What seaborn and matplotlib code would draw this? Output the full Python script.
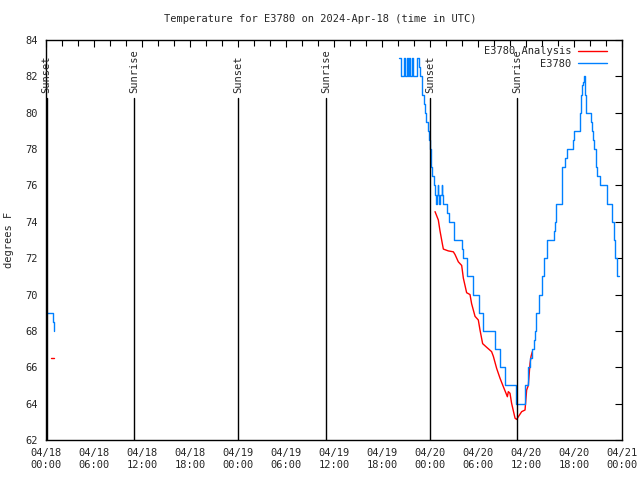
import matplotlib
matplotlib.use("Agg")
import matplotlib.pyplot as plt
import matplotlib.dates as mdates
from matplotlib.lines import Line2D
import numpy as np
import pandas as pd
import seaborn as sns

base = pd.Timestamp("2024-04-18 00:00")

# E3780 observations (hours since 04/18 00:00 UTC, deg F), drawn as steps
obs_seg1_hours = [0.12, 0.91, 1.04]
obs_seg1_temps = [69, 68.5, 68]
obs_seg2_hours = [44.13, 44.38, 44.75, 44.88, 45.13, 45.25, 45.42, 45.54, 45.71, 45.83,
                  46.33, 46.67, 46.8, 46.95, 47.05, 47.2, 47.35, 47.5, 47.7, 47.9,
                  48.05, 48.15, 48.3, 48.45, 48.6, 48.75, 48.85, 48.95, 49.05, 49.15,
                  49.3, 49.45, 49.55, 49.67, 50.08, 50.42, 51.04, 51.96, 52.17, 52.58,
                  53.33, 54.1, 54.58, 56.1, 56.75, 57.4, 58.8, 59.9, 60.25, 60.5,
                  60.8, 61.0, 61.1, 61.3, 61.67, 62.05, 62.3, 62.58, 63.5, 63.62,
                  63.75, 64.45, 64.5, 64.9, 65.1, 65.85, 65.95, 66.8, 66.9, 67.0,
                  67.1, 67.25, 67.4, 67.5, 68.1, 68.2, 68.4, 68.55, 68.7, 68.9,
                  69.2, 70.1, 70.7, 70.95, 71.15, 71.35, 71.6]
obs_seg2_temps = [83, 82, 83, 82, 83, 82, 83, 82, 83, 82,
                  83, 82.5, 82, 81.5, 81, 80.5, 80, 79.5, 79, 78.5,
                  78, 77, 76.5, 76, 75.5, 75, 75.5, 76, 75.5, 75,
                  75.5, 76, 75.5, 75, 74.5, 74, 73, 72.5, 72, 71,
                  70, 69, 68, 67, 66, 65, 64, 65, 66, 66.5,
                  67, 67.5, 68, 69, 70, 71, 72, 73, 73.5, 74,
                  75, 76, 77, 77.5, 78, 78.5, 79, 80, 81, 81.5,
                  81.7, 82, 81, 80, 79.5, 79, 78.5, 78, 77, 76.5,
                  76, 75, 74, 73, 72, 71, 71]

# E3780 analysis
ana_seg1_hours = [0.63, 0.96]
ana_seg1_temps = [66.5, 66.5]
ana_seg2_hours = [48.63, 49.04, 49.25, 49.54, 49.67, 50.29, 50.92, 51.13, 51.54, 51.96,
                  52.17, 52.58, 53.0, 53.2, 53.63, 54.04, 54.25, 54.58, 55.08, 55.7,
                  55.92, 56.33, 56.75, 57.17, 57.5, 57.67, 57.79, 58.0, 58.2, 58.63,
                  58.83, 59.04, 59.46, 59.88, 60.08, 60.29, 60.5, 60.63, 60.79]
ana_seg2_temps = [74.56, 74.1, 73.5, 72.8, 72.5, 72.4, 72.35, 72.2, 71.8, 71.6,
                  70.9, 70.1, 70.0, 69.5, 68.8, 68.6, 68.05, 67.3, 67.1, 66.86,
                  66.6, 65.94, 65.4, 64.93, 64.57, 64.38, 64.66, 64.57, 64.02, 63.2,
                  63.13, 63.28, 63.56, 63.65, 64.75, 65.0, 66.2, 66.6, 66.86]

sun_hours = [0.08, 11.03, 24.05, 35.0, 48.03, 58.9]
sun_labels = ["Sunset", "Sunrise", "Sunset", "Sunrise", "Sunset", "Sunrise"]

RED = "#ff0000"
BLUE = "#0080ff"


def frame(segments):
    parts = []
    for i, (h, t) in enumerate(segments):
        parts.append(pd.DataFrame({
            "time": base + pd.to_timedelta(h, unit="h"),
            "temp": t,
            "seg": i,
        }))
    return pd.concat(parts, ignore_index=True)


obs = frame([(obs_seg1_hours, obs_seg1_temps), (obs_seg2_hours, obs_seg2_temps)])
ana = frame([(ana_seg1_hours, ana_seg1_temps), (ana_seg2_hours, ana_seg2_temps)])

sns.set_style("white")
plt.rcParams["font.family"] = ["DejaVu Sans Mono"]
plt.rcParams["font.size"] = 7.5

fig = plt.figure(figsize=(6.4, 4.8), dpi=100)
ax = fig.add_axes([46 / 640, 40 / 480, 576 / 640, 400 / 480])

sns.lineplot(data=ana, x="time", y="temp", units="seg", estimator=None,
             color=RED, lw=1.0, ax=ax, legend=False)
sns.lineplot(data=obs, x="time", y="temp", units="seg", estimator=None,
             color=BLUE, lw=1.0, drawstyle="steps-post", ax=ax, legend=False)

for h, lab in zip(sun_hours, sun_labels):
    t = base + pd.Timedelta(hours=h)
    ax.plot([t, t], [62, 80.8], color="black", lw=1.0)
    ax.text(t, 81.1, lab, rotation=90, ha="center", va="bottom", fontsize=7.5)

ax.set_xlim(base, base + pd.Timedelta(hours=72))
ax.set_ylim(62, 84)
ax.set_yticks(np.arange(62, 85, 2))
ax.xaxis.set_major_locator(mdates.HourLocator(byhour=[0, 6, 12, 18]))
ax.xaxis.set_minor_locator(mdates.HourLocator(byhour=range(0, 24, 2)))
ax.xaxis.set_major_formatter(mdates.DateFormatter("%m/%d\n%H:%M"))
ax.tick_params(which="both", direction="in", top=True, right=True, color="black")
ax.tick_params(which="major", length=5, width=0.8, pad=6, labelsize=7.5)
ax.tick_params(which="minor", length=4, width=0.8)
for s in ax.spines.values():
    s.set_color("black")
    s.set_linewidth(1.0)

ax.set_xlabel("")
ax.set_ylabel("degrees F", fontsize=7.5, labelpad=8)
fig.text(0.5, 1 - 19 / 480, "Temperature for E3780 on 2024-Apr-18 (time in UTC)",
         ha="center", va="center", fontsize=7.5)

handles = [Line2D([], [], color=RED, lw=1.0), Line2D([], [], color=BLUE, lw=1.0)]
ax.legend(handles, ["E3780 Analysis", "E3780"], loc="upper right",
          bbox_to_anchor=(0.985, 1.0), frameon=False, markerfirst=False,
          handlelength=2.8, labelspacing=0.25, handletextpad=0.6,
          borderaxespad=0.2, fontsize=7.5)

fig.savefig("out.png", dpi=100)
